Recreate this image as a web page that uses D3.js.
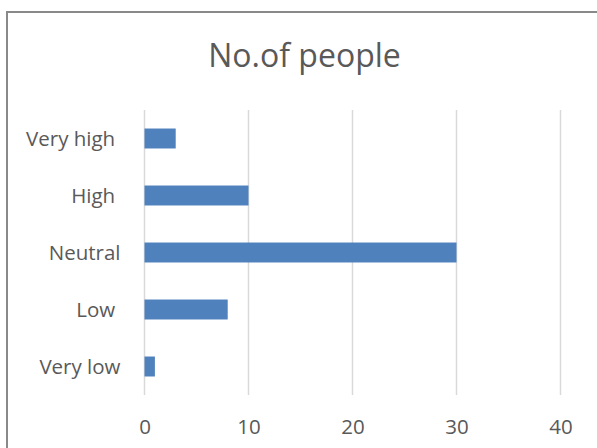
<!DOCTYPE html>
<html>
<head>
<meta charset="utf-8">
<script src="https://cdn.jsdelivr.net/npm/d3@7"></script>
<style>
  html, body { margin: 0; padding: 0; background: #fff; }
  svg { display: block; font-family: "Open Sans", "Liberation Sans", sans-serif; }
  .cat text { white-space: pre; }
</style>
</head>
<body>
<svg id="chart" width="597" height="448"></svg>
<script>
// Ratings, top to bottom, and how many people gave each one
const categories = ["Very high ", "High ", "Neutral", "Low ", "Very low"];
const counts = [3, 10, 30, 8, 1];
const tickValues = [0, 10, 20, 30, 40];
const title = "No.of people";

const svg = d3.select("#chart");
const W = 597, H = 448;

// Chart area frame (runs off the right and bottom edges)
svg.append("rect")
  .attr("x", 7).attr("y", 12)
  .attr("width", W + 10).attr("height", H + 10)
  .attr("fill", "#fff")
  .attr("stroke", "#898989")
  .attr("stroke-width", 2);

const plot = { left: 144.5, right: 560.5, top: 110, bottom: 395 };

const x = d3.scaleLinear().domain([0, 40]).range([plot.left, plot.right]);
const y = d3.scaleBand()
  .domain(categories)
  .range([plot.top, plot.bottom])
  .paddingInner(0.65)
  .paddingOuter(0.325);

// Title
svg.append("text")
  .attr("x", 304.5).attr("y", 67)
  .attr("text-anchor", "middle")
  .attr("font-size", 32)
  .attr("fill", "#595959")
  .text(title);

// Vertical gridlines
svg.append("g")
  .selectAll("line")
  .data(tickValues)
  .join("line")
  .attr("x1", d => x(d)).attr("x2", d => x(d))
  .attr("y1", plot.top).attr("y2", plot.bottom)
  .attr("stroke", "#d9d9d9")
  .attr("stroke-width", 1.5);

// Bars
svg.append("g")
  .selectAll("rect")
  .data(counts)
  .join("rect")
  .attr("x", x(0))
  .attr("y", (d, i) => y(categories[i]))
  .attr("width", d => x(d) - x(0))
  .attr("height", y.bandwidth())
  .attr("fill", "#4f81bd");

// Category axis (labels only)
const yAxis = svg.append("g")
  .attr("class", "cat")
  .attr("transform", `translate(${x(0) - 24},0)`)
  .call(d3.axisLeft(y).tickSize(0).tickPadding(0));
yAxis.select(".domain").remove();
yAxis.selectAll("text")
  .attr("font-size", 20.5)
  .attr("font-family", "\"Open Sans\", sans-serif")
  .attr("fill", "#595959")
  .attr("dy", "0.36em");

// Value axis (labels only)
const xAxis = svg.append("g")
  .attr("transform", `translate(0,${plot.bottom})`)
  .call(d3.axisBottom(x).tickValues(tickValues).tickSize(0).tickPadding(24));
xAxis.select(".domain").remove();
xAxis.selectAll("text")
  .attr("font-size", 20.5)
  .attr("font-family", "\"Open Sans\", sans-serif")
  .attr("fill", "#595959");
</script>
</body>
</html>
